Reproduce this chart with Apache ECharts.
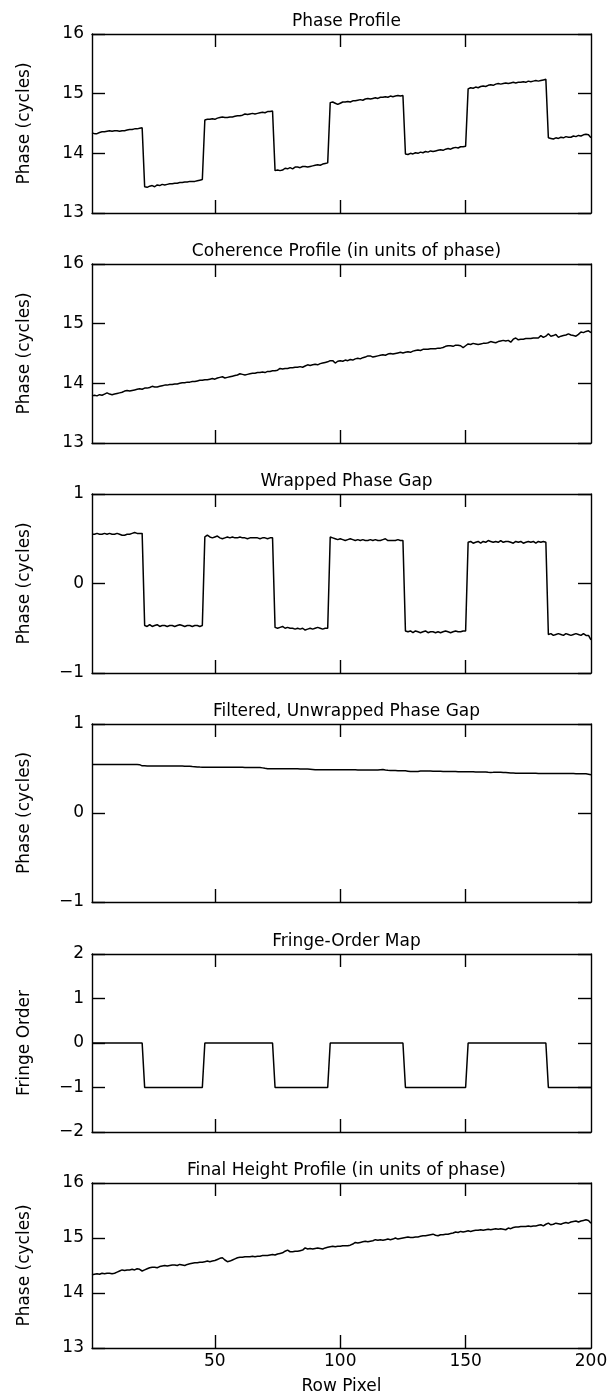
<!DOCTYPE html>
<html><head><meta charset="utf-8">
<script src="https://cdn.jsdelivr.net/npm/echarts@6/dist/echarts.min.js"></script>
<style>html,body{margin:0;padding:0;background:#fff}#c{width:615px;height:1399px}</style>
</head><body><div id="c"></div><script>
// ---------- DATA ----------
const panelTitles = ['Phase Profile','Coherence Profile (in units of phase)','Wrapped Phase Gap','Filtered, Unwrapped Phase Gap','Fringe-Order Map','Final Height Profile (in units of phase)'];
const yAxisNames = ['Phase (cycles)','Phase (cycles)','Phase (cycles)','Phase (cycles)','Fringe Order','Phase (cycles)'];
const yMins = [13,13,-1,-1,-2,13];
const yMaxs = [16,16,1,1,2,16];
const xTickValues = [50,100,150];
const xLabelValues = [50,100,150,200];
const xAxisName = 'Row Pixel';
const rowPixel = Array.from({length:200},(_,i)=>i+1);

const phaseProfile = [
14.34,14.33,14.33,14.35,14.36,14.36,14.37,14.38,14.37,14.38,14.38,14.37,14.38,14.38,14.39,14.40,14.40,14.41,14.41,14.42,14.43,
13.44,13.43,13.45,13.46,13.44,13.47,13.46,13.48,13.47,13.48,13.49,13.49,13.50,13.50,13.51,13.51,13.52,13.52,13.53,13.53,13.53,13.54,13.55,13.56,
14.56,14.57,14.57,14.58,14.57,14.59,14.60,14.61,14.60,14.60,14.61,14.61,14.62,14.63,14.63,14.64,14.66,14.65,14.66,14.67,14.66,14.67,14.68,14.69,14.68,14.70,14.70,14.71,
13.71,13.72,13.71,13.72,13.75,13.74,13.76,13.74,13.77,13.77,13.76,13.78,13.78,13.77,13.78,13.79,13.80,13.81,13.80,13.82,13.83,13.84,
14.85,14.86,14.84,14.82,14.84,14.86,14.86,14.87,14.86,14.88,14.88,14.89,14.90,14.89,14.91,14.92,14.91,14.92,14.93,14.92,14.94,14.94,14.95,14.94,14.96,14.95,14.96,14.97,14.96,14.97,
13.99,13.98,14.00,13.99,14.01,14.00,14.02,14.01,14.03,14.02,14.04,14.03,14.04,14.05,14.06,14.05,14.07,14.08,14.07,14.09,14.10,14.09,14.11,14.11,14.12,
15.08,15.10,15.09,15.11,15.10,15.12,15.13,15.12,15.14,15.15,15.14,15.16,15.17,15.16,15.17,15.18,15.17,15.18,15.19,15.18,15.19,15.19,15.20,15.19,15.21,15.20,15.21,15.22,15.21,15.22,15.23,15.24,
14.26,14.25,14.24,14.26,14.25,14.27,14.26,14.28,14.27,14.27,14.29,14.28,14.30,14.29,14.31,14.32,14.31,14.26];

const coherenceProfile = [
13.79,13.80,13.79,13.81,13.80,13.82,13.84,13.82,13.81,13.82,
13.83,13.84,13.85,13.87,13.88,13.87,13.88,13.89,13.90,13.91,
13.90,13.92,13.92,13.93,13.95,13.94,13.94,13.95,13.96,13.97,
13.97,13.98,13.98,13.99,13.99,14.00,14.01,14.01,14.02,14.02,
14.03,14.03,14.04,14.05,14.05,14.06,14.06,14.07,14.08,14.07,
14.09,14.10,14.11,14.09,14.10,14.11,14.12,14.13,14.14,14.16,
14.15,14.14,14.15,14.16,14.17,14.17,14.18,14.18,14.19,14.18,
14.20,14.20,14.21,14.21,14.22,14.25,14.24,14.25,14.25,14.26,
14.26,14.27,14.27,14.28,14.27,14.29,14.31,14.30,14.31,14.32,
14.31,14.33,14.34,14.35,14.36,14.38,14.38,14.34,14.37,14.38,
14.37,14.39,14.38,14.40,14.39,14.41,14.42,14.41,14.43,14.44,
14.46,14.46,14.44,14.45,14.46,14.47,14.48,14.47,14.49,14.50,
14.49,14.50,14.51,14.52,14.51,14.52,14.53,14.52,14.54,14.55,
14.56,14.55,14.57,14.57,14.57,14.58,14.58,14.58,14.59,14.59,
14.60,14.62,14.63,14.63,14.62,14.64,14.64,14.63,14.60,14.63,
14.66,14.65,14.67,14.66,14.65,14.66,14.67,14.67,14.68,14.70,
14.69,14.68,14.70,14.71,14.72,14.71,14.72,14.69,14.74,14.76,
14.73,14.74,14.74,14.75,14.75,14.75,14.76,14.76,14.76,14.80,
14.77,14.79,14.83,14.79,14.80,14.82,14.77,14.79,14.80,14.81,
14.83,14.81,14.80,14.79,14.82,14.86,14.85,14.87,14.88,14.85];

const wrappedPhaseGap = [
0.55,0.55,0.56,0.55,0.55,0.56,0.55,0.56,0.55,0.55,0.56,0.55,0.54,0.54,0.55,0.55,0.56,0.57,0.56,0.56,0.56,
-0.47,-0.48,-0.46,-0.48,-0.47,-0.46,-0.48,-0.47,-0.47,-0.48,-0.47,-0.47,-0.48,-0.47,-0.46,-0.47,-0.48,-0.47,-0.47,-0.48,-0.47,-0.47,-0.48,-0.47,
0.52,0.54,0.52,0.51,0.52,0.53,0.51,0.50,0.51,0.52,0.51,0.52,0.51,0.51,0.52,0.51,0.51,0.50,0.51,0.51,0.51,0.51,0.50,0.51,0.51,0.50,0.51,0.51,
-0.49,-0.50,-0.49,-0.48,-0.50,-0.49,-0.50,-0.50,-0.51,-0.50,-0.51,-0.50,-0.52,-0.51,-0.50,-0.51,-0.50,-0.49,-0.50,-0.51,-0.50,-0.50,
0.52,0.51,0.50,0.49,0.50,0.49,0.48,0.49,0.50,0.49,0.48,0.49,0.48,0.49,0.48,0.48,0.49,0.48,0.49,0.48,0.48,0.49,0.50,0.48,0.48,0.48,0.48,0.49,0.48,0.48,
-0.53,-0.54,-0.53,-0.55,-0.53,-0.54,-0.55,-0.54,-0.53,-0.55,-0.54,-0.54,-0.55,-0.54,-0.55,-0.54,-0.53,-0.54,-0.55,-0.54,-0.53,-0.54,-0.54,-0.53,-0.53,
0.46,0.47,0.45,0.46,0.47,0.45,0.47,0.46,0.48,0.47,0.46,0.47,0.46,0.48,0.46,0.47,0.47,0.46,0.45,0.47,0.46,0.47,0.45,0.46,0.47,0.46,0.47,0.45,0.47,0.46,0.47,0.46,
-0.57,-0.56,-0.58,-0.57,-0.56,-0.57,-0.58,-0.56,-0.57,-0.58,-0.57,-0.56,-0.57,-0.58,-0.56,-0.58,-0.58,-0.63];

const filteredPhaseGap = [
0.545,0.545,0.545,0.545,0.545,0.545,0.545,0.545,0.545,0.545,0.545,0.545,0.545,0.545,0.544,0.544,0.544,0.544,0.544,0.543,
0.530,0.530,0.529,0.529,0.529,0.529,0.528,0.528,0.528,0.528,0.528,0.528,0.527,0.527,0.527,0.527,0.527,0.526,0.526,0.526,
0.522,0.520,0.518,0.516,0.515,0.515,0.515,0.515,0.514,0.514,0.514,0.514,0.514,0.514,0.514,0.513,0.513,0.513,0.513,0.513,
0.513,0.512,0.512,0.512,0.512,0.512,0.511,0.510,0.507,0.502,0.498,0.497,0.497,0.497,0.497,0.497,0.497,0.497,0.496,0.496,
0.496,0.496,0.496,0.495,0.495,0.495,0.494,0.492,0.489,0.486,0.485,0.485,0.485,0.485,0.485,0.485,0.485,0.485,0.485,0.485,
0.485,0.485,0.485,0.485,0.485,0.485,0.484,0.484,0.484,0.484,0.484,0.484,0.484,0.484,0.484,0.487,0.489,0.484,0.480,0.478,
0.477,0.477,0.476,0.476,0.476,0.474,0.470,0.466,0.466,0.466,0.467,0.471,0.473,0.473,0.472,0.471,0.470,0.470,0.469,0.468,
0.467,0.466,0.466,0.465,0.465,0.465,0.464,0.464,0.464,0.464,0.463,0.463,0.463,0.462,0.462,0.462,0.462,0.461,0.458,0.456,
0.457,0.459,0.459,0.458,0.456,0.454,0.452,0.450,0.449,0.448,0.448,0.448,0.447,0.447,0.447,0.446,0.446,0.446,0.445,0.445,
0.445,0.445,0.444,0.444,0.444,0.444,0.444,0.444,0.443,0.443,0.443,0.443,0.443,0.442,0.442,0.442,0.441,0.440,0.436,0.430];

const fringeOrder = [
0,0,0,0,0,0,0,0,0,0,0,0,0,0,0,0,0,0,0,0,0,
-1,-1,-1,-1,-1,-1,-1,-1,-1,-1,-1,-1,-1,-1,-1,-1,-1,-1,-1,-1,-1,-1,-1,-1,
0,0,0,0,0,0,0,0,0,0,0,0,0,0,0,0,0,0,0,0,0,0,0,0,0,0,0,0,
-1,-1,-1,-1,-1,-1,-1,-1,-1,-1,-1,-1,-1,-1,-1,-1,-1,-1,-1,-1,-1,-1,
0,0,0,0,0,0,0,0,0,0,0,0,0,0,0,0,0,0,0,0,0,0,0,0,0,0,0,0,0,0,
-1,-1,-1,-1,-1,-1,-1,-1,-1,-1,-1,-1,-1,-1,-1,-1,-1,-1,-1,-1,-1,-1,-1,-1,-1,
0,0,0,0,0,0,0,0,0,0,0,0,0,0,0,0,0,0,0,0,0,0,0,0,0,0,0,0,0,0,0,0,
-1,-1,-1,-1,-1,-1,-1,-1,-1,-1,-1,-1,-1,-1,-1,-1,-1,-1];

const finalHeightProfile = [
14.33,14.34,14.35,14.34,14.36,14.35,14.36,14.36,14.35,14.36,
14.38,14.40,14.42,14.41,14.42,14.42,14.43,14.42,14.44,14.43,
14.40,14.42,14.44,14.46,14.47,14.47,14.46,14.48,14.49,14.50,
14.49,14.50,14.51,14.51,14.50,14.52,14.51,14.50,14.52,14.53,
14.54,14.55,14.55,14.56,14.56,14.57,14.58,14.57,14.58,14.59,
14.61,14.63,14.64,14.60,14.57,14.58,14.60,14.62,14.64,14.65,
14.65,14.66,14.66,14.66,14.67,14.66,14.67,14.67,14.68,14.68,
14.68,14.69,14.70,14.69,14.71,14.72,14.73,14.76,14.78,14.75,
14.75,14.76,14.76,14.77,14.78,14.82,14.80,14.81,14.80,14.81,
14.82,14.81,14.80,14.82,14.83,14.84,14.85,14.84,14.85,14.85,
14.86,14.86,14.86,14.87,14.89,14.92,14.91,14.92,14.93,14.94,
14.93,14.94,14.95,14.97,14.96,14.97,14.96,14.97,14.98,14.97,
14.98,15.00,14.98,14.99,15.00,15.01,15.02,15.01,15.01,15.02,
15.02,15.03,15.04,15.04,15.05,15.06,15.07,15.05,15.04,15.06,
15.06,15.07,15.07,15.08,15.09,15.11,15.10,15.12,15.11,15.12,
15.13,15.12,15.13,15.14,15.14,15.15,15.14,15.15,15.16,15.15,
15.16,15.17,15.16,15.17,15.16,15.15,15.18,15.17,15.19,15.20,
15.20,15.21,15.21,15.21,15.22,15.21,15.22,15.22,15.23,15.24,
15.22,15.25,15.27,15.24,15.25,15.27,15.26,15.25,15.27,15.28,
15.27,15.29,15.30,15.31,15.29,15.31,15.32,15.33,15.32,15.27];

const panelSeries = [phaseProfile, coherenceProfile, wrappedPhaseGap, filteredPhaseGap, fringeOrder, finalHeightProfile];

// ---------- LAYOUT ----------
const FONT = 'DejaVu Sans';
const FS = 17;
const gridTops = [34,264,494,724,954,1183];
const gridHeights = [179,179,179,178,178,165];
const titleTops = [8,238,468,698,928,1157];
const LEFT = 92, RIGHT = 24;
const ink = '#000';
const lineW = 1.4;
const minusFmt = v => (v < 0 ? '\u2212' + (-v) : String(v));

const option = {animation:false, backgroundColor:'#fff', title:[], grid:[], xAxis:[], yAxis:[], series:[]};

for (let i = 0; i < 6; i++) {
  const last = i === 5;
  option.title.push({text:panelTitles[i], left:LEFT + (615-LEFT-RIGHT)/2, top:titleTops[i], textAlign:'center',
    textStyle:{fontFamily:FONT, fontSize:FS, fontWeight:'normal', color:ink}});
  option.grid.push({left:LEFT, right:RIGHT, top:gridTops[i], height:gridHeights[i], containLabel:false});
  const mkXTick = () => ({show:true, inside:true, length:13, customValues:xTickValues.slice(), lineStyle:{color:ink, width:lineW}});
  const mkYTick = () => ({show:true, inside:true, length:13, lineStyle:{color:ink, width:lineW}});
  const mkLine = () => ({show:true, onZero:false, lineStyle:{color:ink, width:lineW}});
  option.xAxis.push({type:'value', gridIndex:i, min:1, max:200, position:'bottom', splitLine:{show:false},
    axisLine:mkLine(), axisTick:mkXTick(),
    axisLabel:{show:last, customValues:xLabelValues.slice(), margin:5, color:ink, fontFamily:FONT, fontSize:FS},
    name:last ? xAxisName : '', nameLocation:'middle', nameGap:30,
    nameTextStyle:{fontFamily:FONT, fontSize:FS, color:ink}});
  option.xAxis.push({type:'value', gridIndex:i, min:1, max:200, position:'top', splitLine:{show:false},
    axisLine:mkLine(), axisTick:mkXTick(), axisLabel:{show:false}});
  option.yAxis.push({type:'value', gridIndex:i, min:yMins[i], max:yMaxs[i], interval:1, position:'left', splitLine:{show:false},
    axisLine:mkLine(), axisTick:mkYTick(),
    axisLabel:{show:true, margin:8, color:ink, fontFamily:FONT, fontSize:FS, formatter:minusFmt},
    name:yAxisNames[i], nameLocation:'middle', nameGap:59,
    nameTextStyle:{fontFamily:FONT, fontSize:FS, color:ink}});
  option.yAxis.push({type:'value', gridIndex:i, min:yMins[i], max:yMaxs[i], interval:1, position:'right', splitLine:{show:false},
    axisLine:mkLine(), axisTick:mkYTick(), axisLabel:{show:false}});
  option.series.push({type:'line', xAxisIndex:2*i, yAxisIndex:2*i, showSymbol:false, silent:true,
    data: rowPixel.map((x, j) => [x, panelSeries[i][j]]),
    lineStyle:{color:ink, width:1.5}});
}

const chart = echarts.init(document.getElementById('c'), null, {renderer:'canvas'});
chart.setOption(option);
</script></body></html>
